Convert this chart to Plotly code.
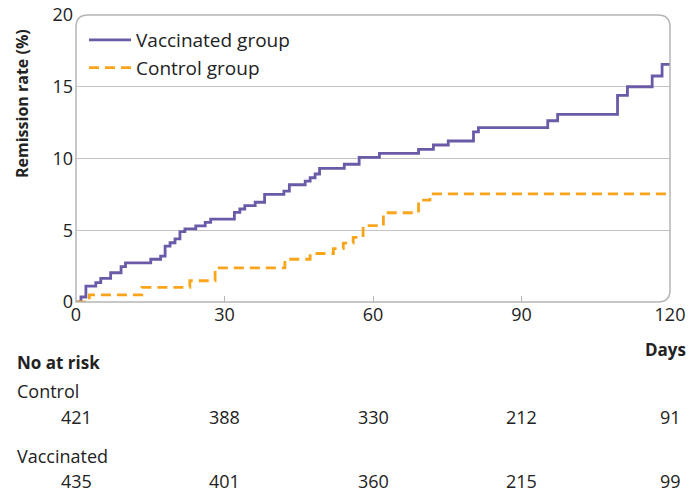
import plotly.graph_objects as go

# ---- data ----
vacc_days = [0, 1, 2, 4, 5, 7, 9.1, 10, 15.1, 17.1, 18, 19, 20, 21, 22, 24.2, 26.1, 27.2,
             32, 33.1, 34.1, 36.2, 38.1, 42, 43.1, 46.3, 47.3, 48.3, 49.2, 54.2, 57.2,
             61.3, 69.2, 72.2, 75.2, 80.3, 81.3, 95.3, 97.3, 109.4, 111.4, 116.4, 118.4, 120]
vacc_rate = [0, 0.35, 1.1, 1.35, 1.65, 2.04, 2.46, 2.72, 2.98, 3.2, 3.9, 4.13, 4.4, 4.9,
             5.09, 5.3, 5.55, 5.78, 6.25, 6.48, 6.71, 6.95, 7.5, 7.72, 8.17, 8.43, 8.66,
             8.92, 9.31, 9.6, 10.08, 10.36, 10.64, 10.94, 11.22, 11.85, 12.15, 12.63,
             13.08, 14.4, 15.0, 15.75, 16.56, 16.56]

ctrl_days = [0, 2.7, 13.3, 23, 28.1, 42.2, 47.3, 52, 54, 56, 58, 62.1, 69.2, 71.5, 120]
ctrl_rate = [0, 0.49, 1.02, 1.48, 2.38, 2.98, 3.38, 3.72, 4.1, 4.5, 5.32, 6.22, 7.1, 7.53, 7.53]

risk_days = [0, 30, 60, 90, 120]
risk_control = [421, 388, 330, 212, 91]
risk_vaccinated = [435, 401, 360, 215, 99]

x_ticks = [0, 30, 60, 90, 120]
y_ticks = [0, 5, 10, 15, 20]

PURPLE = "#6a5aa8"
ORANGE = "#f9a51b"
GRID = "#c4c4c4"
TEXT = "#222222"
FONT = "Open Sans"
FS = 18
FSB = 17

fig = go.Figure()
fig.add_trace(go.Scatter(x=vacc_days, y=vacc_rate, mode="lines", line_shape="hv",
                         name="Vaccinated group", line=dict(color=PURPLE, width=2.8)))
fig.add_trace(go.Scatter(x=ctrl_days, y=ctrl_rate, mode="lines", line_shape="hv",
                         name="Control group",
                         line=dict(color=ORANGE, width=2.8, dash="10px,6px")))

L, R, T, B = 76, 20, 15, 190
W, H = 690, 492
pw, ph = W - L - R, H - T - B

def py2paper(py):
    return (H - B - py) / ph

def px2paper(px):
    return (px - L) / pw

ann = []
ann.append(dict(text="<b>Remission rate (%)</b>", xref="paper", yref="paper",
                x=px2paper(22), y=py2paper(104), textangle=-90, showarrow=False,
                font=dict(size=FSB - 1, color=TEXT, family=FONT), xanchor="center", yanchor="middle"))
ann.append(dict(text="<b>Days</b>", xref="paper", yref="paper", x=px2paper(688),
                y=py2paper(349), showarrow=False, xanchor="right", yanchor="middle",
                font=dict(size=FSB, color=TEXT, family=FONT)))
ann.append(dict(text="<b>No at risk</b>", xref="paper", yref="paper", x=px2paper(15),
                y=py2paper(362), showarrow=False, xanchor="left", yanchor="middle",
                font=dict(size=FSB, color=TEXT, family=FONT)))
ann.append(dict(text="Control", xref="paper", yref="paper", x=px2paper(15),
                y=py2paper(391), showarrow=False, xanchor="left", yanchor="middle",
                font=dict(size=FS, color=TEXT, family=FONT)))
ann.append(dict(text="Vaccinated", xref="paper", yref="paper", x=px2paper(15),
                y=py2paper(456), showarrow=False, xanchor="left", yanchor="middle",
                font=dict(size=FS, color=TEXT, family=FONT)))
for d, c, v in zip(risk_days, risk_control, risk_vaccinated):
    ann.append(dict(text=str(c), xref="x", yref="paper", x=d, y=py2paper(417),
                    showarrow=False, xanchor="center", yanchor="middle",
                    font=dict(size=FS, color=TEXT, family=FONT)))
    ann.append(dict(text=str(v), xref="x", yref="paper", x=d, y=py2paper(481),
                    showarrow=False, xanchor="center", yanchor="middle",
                    font=dict(size=FS, color=TEXT, family=FONT)))

rx, ry = 12 / pw, 12 / ph
border = (f"M 0,0 L 0,{1-ry} Q 0,1 {rx},1 L {1-rx},1 Q 1,1 1,{1-ry} "
          f"L 1,{ry} Q 1,0 {1-rx},0 Z")
shapes = [dict(type="path", path=border, xref="paper", yref="paper",
               line=dict(color="#b5b5b5", width=1.5), layer="above")]

fig.update_layout(
    width=W, height=H,
    margin=dict(l=L, r=R, t=T, b=B, autoexpand=False),
    paper_bgcolor="white", plot_bgcolor="white",
    font=dict(family=FONT, size=FS, color=TEXT),
    showlegend=True,
    legend=dict(x=px2paper(84), y=py2paper(21), xanchor="left", yanchor="top",
                bgcolor="rgba(0,0,0,0)", font=dict(size=19, color=TEXT, family=FONT),
                itemwidth=42, tracegroupgap=0),
    annotations=ann,
    shapes=shapes,
    xaxis=dict(range=[0, 120], tickvals=x_ticks, ticks="inside", ticklen=6,
               tickcolor="#b5b5b5", showgrid=False, zeroline=False, showline=False,
               tickfont=dict(size=FS, color=TEXT, family=FONT), fixedrange=True,
               automargin=False),
    yaxis=dict(range=[0, 20], tickvals=y_ticks, showgrid=True, gridcolor=GRID,
               gridwidth=1.2, zeroline=False, showline=False, ticks="",
               tickfont=dict(size=FS, color=TEXT, family=FONT), ticklabelstandoff=2,
               fixedrange=True, automargin=False),
)

fig.write_html("out.html", config={"displayModeBar": False},
               post_script="document.body.style.margin='0';")
